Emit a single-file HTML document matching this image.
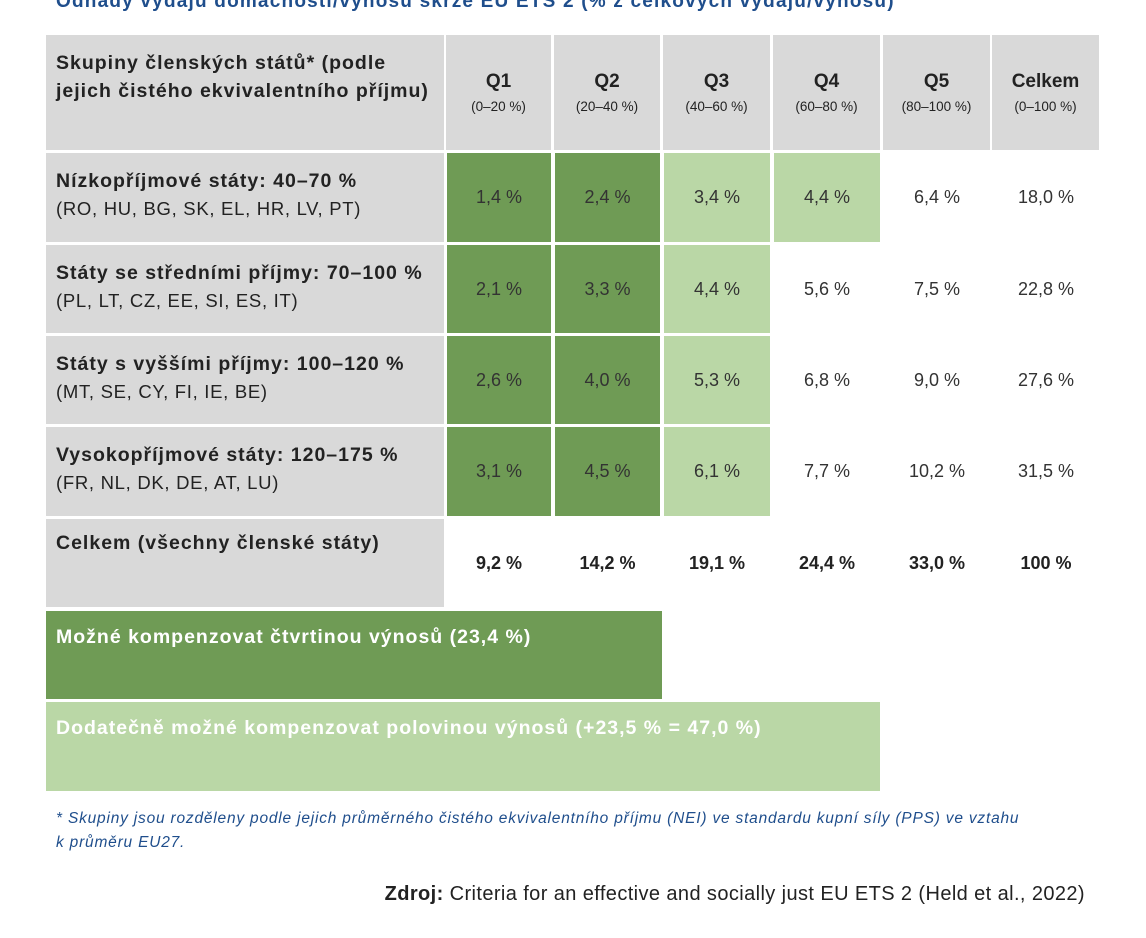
<!DOCTYPE html>
<html><head><meta charset="utf-8">
<style>
body{margin:0;width:1146px;height:938px;background:#fff;position:relative;overflow:hidden;font-family:"Liberation Sans",sans-serif;color:#222}
.a{position:absolute;box-sizing:border-box}
.g{background:#d9d9d9}
.dk{background:#6f9b55}
.lt{background:#bad7a6}
.c{display:flex;flex-direction:column;align-items:center;justify-content:center;text-align:center}
.lab{padding:14px 0 0 10px;font-size:18.5px;line-height:27px;letter-spacing:0.7px;white-space:nowrap}
.lab b{font-weight:bold;font-size:19.5px;letter-spacing:1px}
.v{font-size:18px;color:#333}
</style></head><body>
<div class="a" style="left:56px;top:-9px;font-size:19px;letter-spacing:1.2px;font-weight:bold;color:#1f4e8c;white-space:nowrap">Odhady výdajů domácností/výnosů skrze EU ETS 2 (% z celkových výdajů/výnosů)</div>
<div id="tbl"></div>
<div class="a" style="left:56px;top:807px;font-size:15.5px;letter-spacing:0.8px;font-style:italic;color:#1f4e8c;line-height:24px;white-space:nowrap">* Skupiny jsou rozděleny podle jejich průměrného čistého ekvivalentního příjmu (NEI) ve standardu kupní síly (PPS) ve vztahu<br>k průměru EU27.</div>
<div class="a" style="right:61px;top:883px;font-size:20px;letter-spacing:0.4px;color:#222;white-space:nowrap"><b>Zdroj:</b> Criteria for an effective and socially just EU ETS 2 (Held et al., 2022)</div>
<script>
const headers=["Q1","Q2","Q3","Q4","Q5","Celkem"];
const subs=["(0–20 %)","(20–40 %)","(40–60 %)","(60–80 %)","(80–100 %)","(0–100 %)"];
const groups=["Nízkopříjmové státy: 40–70 %","Státy se středními příjmy: 70–100 %","Státy s vyššími příjmy: 100–120 %","Vysokopříjmové státy: 120–175 %"];
const countries=["(RO, HU, BG, SK, EL, HR, LV, PT)","(PL, LT, CZ, EE, SI, ES, IT)","(MT, SE, CY, FI, IE, BE)","(FR, NL, DK, DE, AT, LU)"];
const values=[[1.4,2.4,3.4,4.4,6.4,18.0],[2.1,3.3,4.4,5.6,7.5,22.8],[2.6,4.0,5.3,6.8,9.0,27.6],[3.1,4.5,6.1,7.7,10.2,31.5]];
const totals=[9.2,14.2,19.1,24.4,33.0,100];
const shade=[["dk","dk","lt","lt","",""],["dk","dk","lt","","",""],["dk","dk","lt","","",""],["dk","dk","lt","","",""]];
const colX=[447,555,664,774,884,993],colW=[104,105,106,106,106,106];
const rowY=[153,245,336,427],rowH=[89,88,88,89];
const T=document.getElementById('tbl');
function fmt(v){return v===100?'100 %':v.toFixed(1).replace('.',',')+' %';}
function mk(cls,x,y,w,h,html){const d=document.createElement('div');d.className='a '+cls;d.style.cssText=`left:${x}px;top:${y}px;width:${w}px;height:${h}px`;d.innerHTML=html;T.appendChild(d);return d;}
let e=mk('g lab',46,35,398,115,'<b>Skupiny členských států* (podle<br>jejich čistého ekvivalentního příjmu)</b>');
e.style.paddingTop='14px';


headers.forEach((h,i)=>{const d=mk('g c',colX[i]-1,35,colW[i]+1,115,`<div style="font-weight:bold;font-size:19px">${h}</div><div style="font-size:13.5px;margin-top:6px">${subs[i]}</div>`);

});
groups.forEach((g,r)=>{const d=mk('g lab',46,rowY[r],398,rowH[r],`<b>${g}</b><br>${countries[r]}`);


values[r].forEach((v,i)=>{const c=mk((shade[r][i]||'')+' c v',colX[i],rowY[r],colW[i],rowH[r],fmt(v));

});});
e=mk('g lab',46,519,398,88,'<b>Celkem (všechny členské státy)</b>');
e.style.paddingTop='10px';


totals.forEach((v,i)=>{const c=mk('c v',colX[i],535,colW[i],56,'<b style="color:#222">'+fmt(v)+'</b>');

});
e=mk('dk',46,611,616,88,'<div style="color:#fff;font-weight:bold;font-size:19.5px;letter-spacing:1px;padding:15px 0 0 10px;white-space:nowrap">Možné kompenzovat čtvrtinou výnosů (23,4 %)</div>');


e=mk('lt',46,702,834,89,'<div style="color:#fff;font-weight:bold;font-size:19.5px;letter-spacing:1px;padding:15px 0 0 10px;white-space:nowrap">Dodatečně možné kompenzovat polovinou výnosů (+23,5 % = 47,0 %)</div>');


</script>
</body></html>
